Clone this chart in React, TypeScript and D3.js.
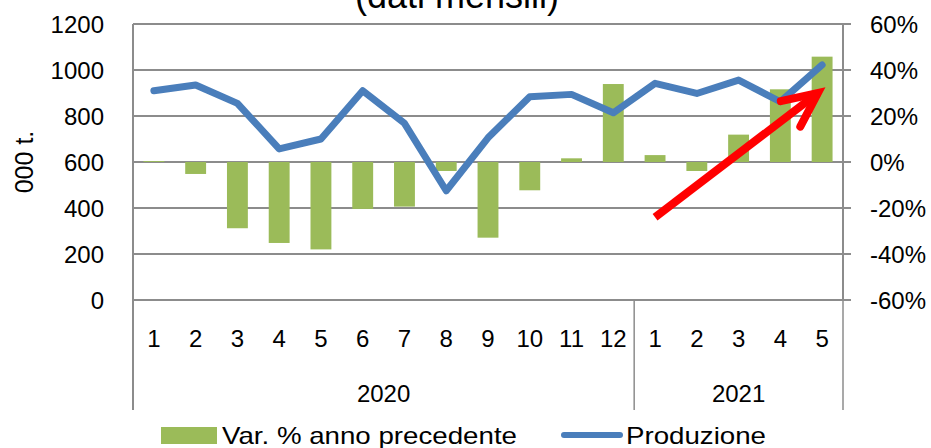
import * as d3 from "d3";

// dati mensili
const years = ["2020", "2021"];
const monthsPerYear = [12, 5];
const monthLabels = ["1", "2", "3", "4", "5", "6", "7", "8", "9", "10", "11", "12", "1", "2", "3", "4", "5"];

// produzione, 000 t.
const produzione = [910, 935, 855, 657, 700, 910, 768, 475, 705, 884, 894, 814, 942, 898, 956, 862, 1022];
// var. % anno precedente
const variazione = [0.4, -5.2, -28.8, -35.2, -38, -20.4, -19.4, -3.9, -32.9, -12.3, 1.6, 33.9, 3.0, -3.9, 11.9, 31.6, 45.8];

const leftTicks = [0, 200, 400, 600, 800, 1000, 1200];
const rightTicks = [-60, -40, -20, 0, 20, 40, 60];

// freccia rossa (posizione categoria, valore %)
const arrowFrom = [12.5, -24];
const arrowTo = [16.4, 30];

const W = 931;
const H = 448;
const margin = { top: 24, right: 88, bottom: 148, left: 133 };
const FONT = "'Liberation Sans', Arial, sans-serif";
const GRID = "#8c8c8c";

export default function App() {
  const innerW = W - margin.left - margin.right;
  const innerH = H - margin.top - margin.bottom;

  const keys: string[] = [];
  years.forEach((y, yi) => {
    for (let m = 1; m <= monthsPerYear[yi]; m++) keys.push(y + "-" + m);
  });

  const x = d3.scaleBand().domain(keys).range([0, innerW]).paddingInner(0).paddingOuter(0);
  const xi = d3.scaleLinear().domain([0, keys.length]).range([0, innerW]);
  const yL = d3.scaleLinear().domain([0, 1200]).range([innerH, 0]);
  const yR = d3.scaleLinear().domain([-60, 60]).range([innerH, 0]);

  const bw = x.bandwidth() / 2;

  const line = d3
    .line<number>()
    .x((_, i) => x(keys[i])! + x.bandwidth() / 2)
    .y((d) => yL(d));

  // separatori anni
  const seps: number[] = [0];
  let acc = 0;
  monthsPerYear.forEach((n) => {
    acc += n;
    seps.push(acc);
  });

  // freccia
  const ax0 = xi(arrowFrom[0]);
  const ay0 = yR(arrowFrom[1]);
  const ax1 = xi(arrowTo[0]);
  const ay1 = yR(arrowTo[1]);
  const ang = Math.atan2(ay0 - ay1, ax0 - ax1);
  const wingLen = 38;
  const wa = (25 * Math.PI) / 180;
  const w1 = [ax1 + wingLen * Math.cos(ang + wa), ay1 + wingLen * Math.sin(ang + wa)];
  const w2 = [ax1 + wingLen * Math.cos(ang - wa), ay1 + wingLen * Math.sin(ang - wa)];

  return (
    <svg
      width={W}
      height={H}
      style={{ position: "absolute", left: 0, top: 0, background: "#fff" }}
      fontFamily={FONT}
    >
      <text x={457} y={8} fontSize={36} textAnchor="middle" fill="#000">
        (dati mensili)
      </text>

      <g transform={`translate(${margin.left},${margin.top})`}>
        {/* griglia */}
        {leftTicks.map((t) => (
          <line key={t} x1={0} x2={innerW + 8} y1={yL(t)} y2={yL(t)} stroke={GRID} strokeWidth={2} />
        ))}
        <line x1={0} x2={0} y1={0} y2={innerH + 110} stroke={GRID} strokeWidth={2} />
        <line x1={innerW} x2={innerW} y1={0} y2={innerH} stroke={GRID} strokeWidth={2} />
        {seps.map((s, i) => (
          <line key={i} x1={xi(s)} x2={xi(s)} y1={innerH} y2={innerH + 110} stroke={GRID} strokeWidth={1.5} />
        ))}

        {/* barre */}
        {variazione.map((v, i) => (
          <rect
            key={i}
            x={x(keys[i])! + (x.bandwidth() - bw) / 2}
            y={yR(Math.max(0, v))}
            width={bw}
            height={Math.abs(yR(v) - yR(0))}
            fill="#9bbb59"
          />
        ))}

        {/* linea produzione */}
        <path
          d={line(produzione) || ""}
          fill="none"
          stroke="#4a7ebb"
          strokeWidth={7}
          strokeLinejoin="round"
          strokeLinecap="round"
        />

        {/* freccia */}
        <line x1={ax0} y1={ay0} x2={ax1} y2={ay1} stroke="#ff0000" strokeWidth={8} />
        <path
          d={`M${w1[0]},${w1[1]}L${ax1},${ay1}L${w2[0]},${w2[1]}`}
          fill="none"
          stroke="#ff0000"
          strokeWidth={8}
          strokeLinecap="round"
          strokeLinejoin="miter"
        />

        {/* asse sinistro */}
        {leftTicks.map((t) => (
          <text key={t} x={-29} y={yL(t) + 8.6} fontSize={24} textAnchor="end" fill="#000">
            {t}
          </text>
        ))}
        {/* asse destro */}
        {rightTicks.map((t) => (
          <text key={t} x={innerW + 27} y={yR(t) + 8.6} fontSize={24} textAnchor="start" fill="#000">
            {t + "%"}
          </text>
        ))}
        {/* etichette mesi */}
        {monthLabels.map((m, i) => (
          <text
            key={i}
            x={x(keys[i])! + x.bandwidth() / 2}
            y={innerH + 47}
            fontSize={24}
            textAnchor="middle"
            fill="#000"
          >
            {m}
          </text>
        ))}
        {years.map((y, i) => (
          <text
            key={y}
            x={(xi(seps[i]) + xi(seps[i + 1])) / 2}
            y={innerH + 102}
            fontSize={24}
            textAnchor="middle"
            fill="#000"
          >
            {y}
          </text>
        ))}
      </g>

      <text transform="translate(33,162) rotate(-90)" fontSize={25} textAnchor="middle" fill="#000">
        000 t.
      </text>

      {/* legenda */}
      <rect x={161} y={427} width={56} height={17} fill="#9bbb59" />
      <text x={222} y={444} fontSize={24} textLength={295} lengthAdjust="spacingAndGlyphs" fill="#000">
        Var. % anno precedente
      </text>
      <line x1={564} x2={620} y1={435} y2={435} stroke="#4a7ebb" strokeWidth={6} strokeLinecap="round" />
      <text x={626} y={444} fontSize={24} textLength={140} lengthAdjust="spacingAndGlyphs" fill="#000">
        Produzione
      </text>
    </svg>
  );
}
